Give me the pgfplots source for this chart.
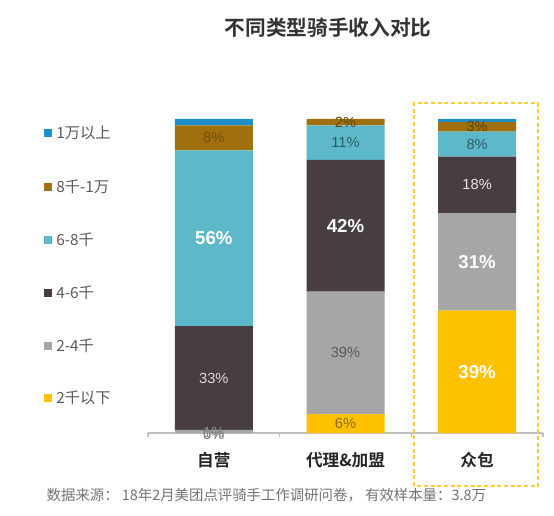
\documentclass[border=0pt]{standalone}
\usepackage{fontspec}
\setmainfont{Noto Sans CJK SC}[BoldFont={Noto Sans CJK SC Bold}]
\newfontfamily\lat{Liberation Sans}
\usepackage{pgfplots}
\pgfplotsset{compat=1.18}

\definecolor{cBlue}{HTML}{1C8FC6}
\definecolor{cBrown}{HTML}{A0700E}
\definecolor{cTeal}{HTML}{5DB8C9}
\definecolor{cDark}{HTML}{483E42}
\definecolor{cGray}{HTML}{A6A6A6}
\definecolor{cYellow}{HTML}{FDC100}
\definecolor{axisgray}{HTML}{BFBFBF}
\definecolor{txt}{HTML}{333333}

\tikzset{sm/.style={font=\lat\fontsize{11}{12}\selectfont},
         bg/.style={font=\lat\bfseries\fontsize{14}{16}\selectfont, text=white},
         cat/.style={font=\fontsize{12.5}{15}\selectfont\bfseries, text=black!85}}

\begin{document}
\begin{tikzpicture}
  \path (0pt,0pt) rectangle (415.5pt,386.25pt);

  % title and source
  \node[font=\fontsize{15.5}{18}\selectfont\bfseries, text=txt] at (246pt,365.25pt) {不同类型骑手收入对比};
  \node[anchor=west, font=\fontsize{10.8}{12}\selectfont, text=black!55] at (31.5pt,15pt)
    {数据来源： 18年2月美团点评骑手工作调研问卷， 有效样本量：3.8万};

  % legend
  \foreach \c/\t/\yy in {cBlue/1万以上/286.5pt, cBrown/8千-1万/246pt, cTeal/6-8千/206.25pt,
                         cDark/4-6千/166.5pt, cGray/2-4千/126.75pt, cYellow/2千以下/87.75pt} {
    \fill[\c] (33pt,\yy-3pt) rectangle (39pt,\yy+3pt);
    \node[anchor=west, inner sep=0pt, font=\fontsize{11.5}{13}\selectfont, text=black!65] at (42pt,\yy) {\t};
  }

  \begin{axis}[
    at={(111pt,61.5pt)}, anchor=south west,
    scale only axis, width=296.25pt, height=235.5pt,
    ybar stacked, bar width=58.5pt,
    xmin=-0.5, xmax=2.5, ymin=0, ymax=100,
    axis x line*=bottom, hide y axis,
    axis line style={axisgray, line width=0.8pt},
    xtick={-0.5,0.5,1.5,2.5}, xticklabels={},
    tick style={axisgray, line width=0.8pt}, tick align=outside,
    major tick length=3pt,
    clip=false,
  ]
    % 2千以下
    \addplot[fill=cYellow, draw=none] coordinates {(0,0) (1,6) (2,39)};
    % 2-4千
    \addplot[fill=cGray, draw=none] coordinates {(0,1) (1,39) (2,31)};
    % 4-6千
    \addplot[fill=cDark, draw=none] coordinates {(0,33) (1,42) (2,18)};
    % 6-8千
    \addplot[fill=cTeal, draw=none] coordinates {(0,56) (1,11) (2,8)};
    % 8千-1万
    \addplot[fill=cBrown, draw=none] coordinates {(0,8) (1,2) (2,3)};
    % 1万以上
    \addplot[fill=cBlue, draw=none] coordinates {(0,2) (1,0) (2,1)};

    % label anchors (middle of each segment)
    \coordinate (a0) at (axis cs:0,-0.6);
    \coordinate (a1) at (axis cs:0,0.2);
    \coordinate (a2) at (axis cs:0,17.5);
    \coordinate (a3) at (axis cs:0,62);
    \coordinate (a4) at (axis cs:0,94);
    \coordinate (b0) at (axis cs:1,3);
    \coordinate (b1) at (axis cs:1,25.5);
    \coordinate (b2) at (axis cs:1,66);
    \coordinate (b3) at (axis cs:1,92.5);
    \coordinate (b4) at (axis cs:1,99);
    \coordinate (c0) at (axis cs:2,19.5);
    \coordinate (c1) at (axis cs:2,54.5);
    \coordinate (c2) at (axis cs:2,79);
    \coordinate (c3) at (axis cs:2,92);
    \coordinate (c4) at (axis cs:2,97.5);

    % category names
    \node[cat] at (axis cs:0,-8.6) {自营};
    \node[cat] at (axis cs:1,-8.6) {代理\&加盟};
    \node[cat] at (axis cs:2,-8.6) {众包};
  \end{axis}

  % value labels, above the bars
  \node[sm, text=black!55] at (a0) {0\%};
  \node[sm, text=black!45] at (a1) {1\%};
  \node[sm, text=white!85!black] at (a2) {33\%};
  \node[bg] at (a3) {56\%};
  \node[sm, text=cBrown!70!black] at (a4) {8\%};

  \node[sm, text=cYellow!55!black] at (b0) {6\%};
  \node[sm, text=black!65] at (b1) {39\%};
  \node[bg] at (b2) {42\%};
  \node[sm, text=cTeal!50!black] at (b3) {11\%};
  \node[sm, text=cBrown!60!black] at (b4) {2\%};

  \node[bg] at (c0) {39\%};
  \node[bg] at (c1) {31\%};
  \node[sm, text=white!90!black] at (c2) {18\%};
  \node[sm, text=cTeal!50!black] at (c3) {8\%};
  \node[sm, text=cBrown!60!black] at (c4) {3\%};

  % highlight box
  \draw[cYellow!80!white, line width=1pt, dash pattern=on 3pt off 2pt] (310.5pt,21.75pt) rectangle (403.5pt,309pt);
\end{tikzpicture}
\end{document}
